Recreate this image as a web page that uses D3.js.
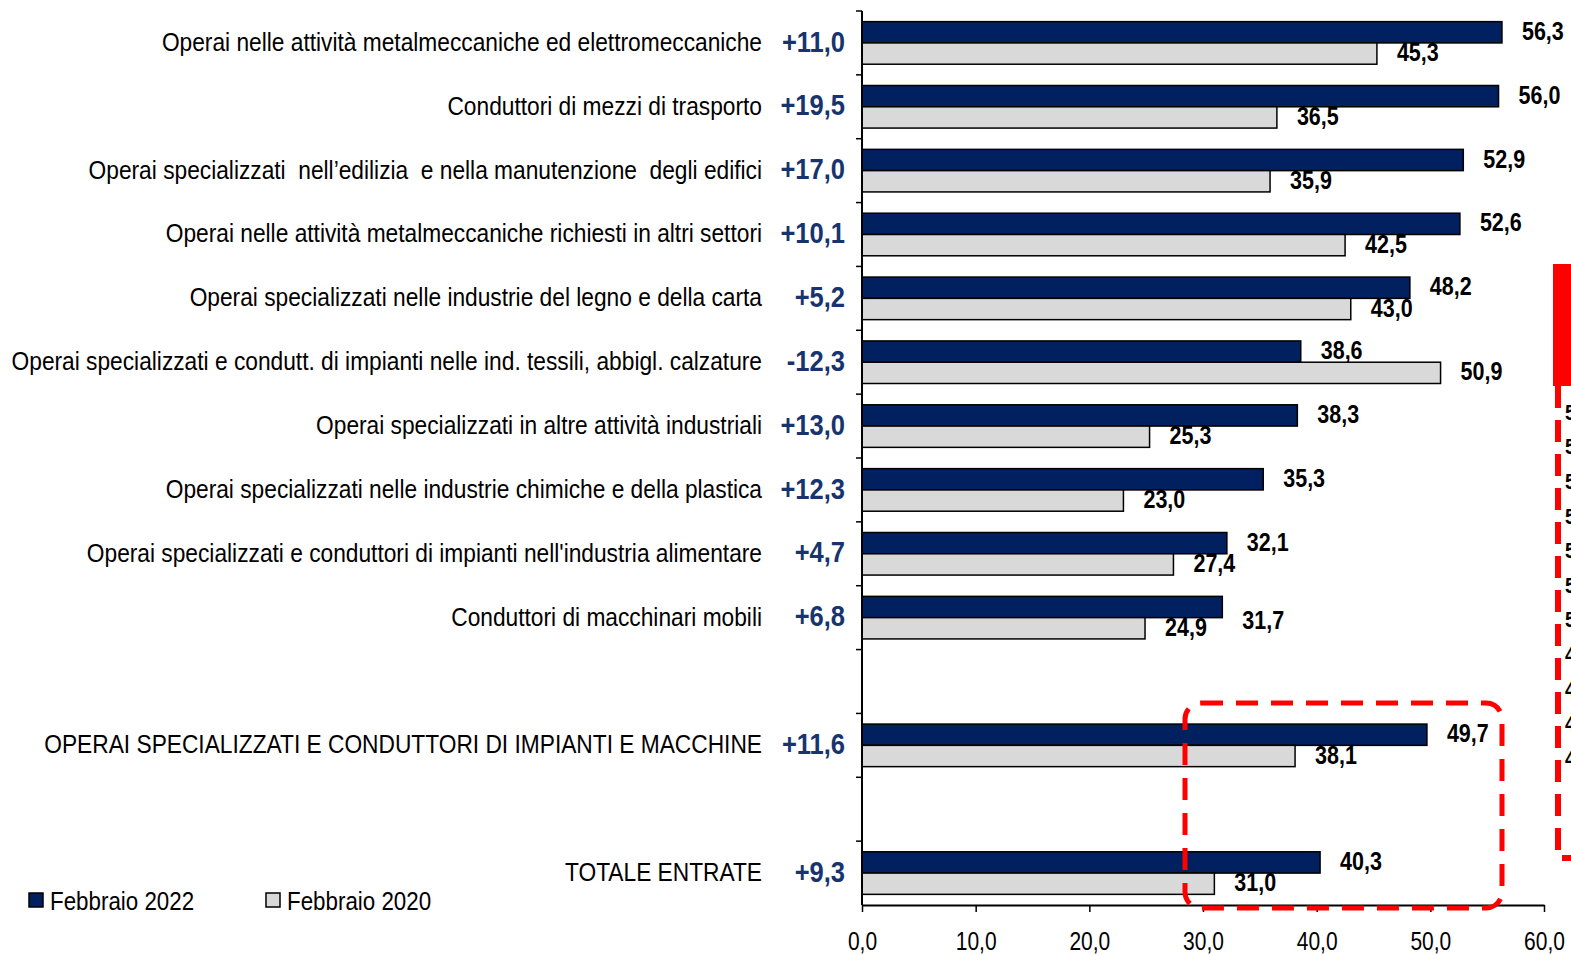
<!DOCTYPE html>
<html>
<head>
<meta charset="utf-8">
<script src="https://cdn.jsdelivr.net/npm/d3@7"></script>
<style>
  html, body { margin: 0; padding: 0; background: #fff; overflow: hidden; }
  svg { display: block; }
  text { font-family: "Liberation Sans Narrow", "Arial Narrow", "Liberation Sans", Arial, sans-serif; white-space: pre; }
</style>
</head>
<body>
<svg id="chart" width="1571" height="955"></svg>
<script>
// Professional groups (entrate previste, quota di difficile reperimento %)
const categories = [
  "Operai nelle attività metalmeccaniche ed elettromeccaniche",
  "Conduttori di mezzi di trasporto",
  "Operai specializzati  nell\u2019edilizia  e nella manutenzione  degli edifici",
  "Operai nelle attività metalmeccaniche richiesti in altri settori",
  "Operai specializzati nelle industrie del legno e della carta",
  "Operai specializzati e condutt. di impianti nelle ind. tessili, abbigl. calzature",
  "Operai specializzati in altre attività industriali",
  "Operai specializzati nelle industrie chimiche e della plastica",
  "Operai specializzati e conduttori di impianti nell'industria alimentare",
  "Conduttori di macchinari mobili",
  "OPERAI SPECIALIZZATI E CONDUTTORI DI IMPIANTI E MACCHINE",
  "TOTALE ENTRATE"
];
const feb2022 = [56.3, 56.0, 52.9, 52.6, 48.2, 38.6, 38.3, 35.3, 32.1, 31.7, 49.7, 40.3];
const feb2020 = [45.3, 36.5, 35.9, 42.5, 43.0, 50.9, 25.3, 23.0, 27.4, 24.9, 38.1, 31.0];
const seriesNames = ["Febbraio 2022", "Febbraio 2020"];
const xTicks = [0, 10, 20, 30, 40, 50, 60];
// row slot of each category (empty slots separate the aggregate rows)
const rowSlot = [0, 1, 2, 3, 4, 5, 6, 7, 8, 9, 11, 13];
const slotCount = 14;

const NAVY = "#00205F";
const LIGHT = "#D9D9D9";
const DIFF_COLOR = "#17346E";

const fmt = v => d3.format(".1f")(v).replace(".", ",");
const fmtDiff = v => (v > 0 ? "+" : v < 0 ? "-" : "") + fmt(Math.abs(v));

const svg = d3.select("#chart");

// draws a horizontally condensed text (narrow face look) anchored at (x, y)
function narrowText(parent, x, y, str, opts) {
  return parent.append("text")
    .attr("transform", `translate(${x},${y}) scale(${opts.squeeze},1)`)
    .attr("text-anchor", opts.anchor || "start")
    .attr("dominant-baseline", "middle")
    .attr("font-size", opts.size)
    .attr("font-weight", opts.weight || "normal")
    .attr("fill", opts.fill || "#000")
    .text(str);
}

const x = d3.scaleLinear().domain([0, 60]).range([862, 1544]);
const y = d3.scaleBand().domain(d3.range(slotCount)).range([11, 905]).padding(0);
const ySub = d3.scaleBand().domain(seriesNames).range([0, y.bandwidth()])
  .paddingInner(0).paddingOuter(0.5);

const rows = categories.map((c, i) => ({
  name: c, slot: rowSlot[i], v22: feb2022[i], v20: feb2020[i], diff: feb2022[i] - feb2020[i]
}));

// bars
const g = svg.append("g");
rows.forEach(r => {
  const top = y(r.slot);
  g.append("rect")
    .attr("x", x(0)).attr("y", top + ySub(seriesNames[0]))
    .attr("width", x(r.v22) - x(0)).attr("height", ySub.bandwidth())
    .attr("fill", NAVY).attr("stroke", "#000").attr("stroke-width", 1.5);
  g.append("rect")
    .attr("x", x(0)).attr("y", top + ySub(seriesNames[1]))
    .attr("width", x(r.v20) - x(0)).attr("height", ySub.bandwidth())
    .attr("fill", LIGHT).attr("stroke", "#000").attr("stroke-width", 1.5);
});

// value labels
const labelNudge = { 9: 14 }; // keep "31,7" clear of the lower label
const valueStyle = { size: 25, weight: "bold", squeeze: 0.86 };
rows.forEach((r, i) => {
  const top = y(r.slot);
  narrowText(g, x(r.v22) + 20,
    top + ySub(seriesNames[0]) + ySub.bandwidth() / 2 + 1 + (labelNudge[i] || 0),
    fmt(r.v22), valueStyle);
  narrowText(g, x(r.v20) + 20,
    top + ySub(seriesNames[1]) + ySub.bandwidth() / 2 + 1,
    fmt(r.v20), valueStyle);
});

// category labels and differences
rows.forEach(r => {
  const cy = y(r.slot) + y.bandwidth() / 2 + 1;
  narrowText(g, 762, cy, r.name, { size: 26, squeeze: 0.875, anchor: "end" });
  narrowText(g, 845, cy, fmtDiff(r.diff),
    { size: 29, squeeze: 0.88, anchor: "end", weight: "bold", fill: DIFF_COLOR });
});

// y axis line with band-boundary ticks
const yAxis = svg.append("g");
yAxis.append("line")
  .attr("x1", x(0)).attr("x2", x(0))
  .attr("y1", y.range()[0]).attr("y2", y.range()[1])
  .attr("stroke", "#000").attr("stroke-width", 2);
d3.range(slotCount).forEach(s => {
  yAxis.append("line")
    .attr("x1", x(0) - 6).attr("x2", x(0))
    .attr("y1", y(s)).attr("y2", y(s))
    .attr("stroke", "#000").attr("stroke-width", 1.5);
});

// x axis
const xAxis = svg.append("g")
  .attr("transform", `translate(0,${y.range()[1]})`)
  .call(d3.axisBottom(x).tickValues(xTicks).tickFormat(fmt).tickSize(7).tickSizeOuter(0));
xAxis.select(".domain").attr("stroke", "#000").attr("stroke-width", 2);
xAxis.selectAll(".tick line").attr("stroke", "#000").attr("stroke-width", 1.5);
xAxis.selectAll(".tick text")
  .attr("font-family", null)
  .attr("font-size", 25).attr("fill", "#000")
  .attr("dy", "0").attr("y", 0)
  .attr("dominant-baseline", "middle")
  .attr("transform", "translate(0,38) scale(0.84,1)");

// legend
const legend = svg.append("g");
[[NAVY, 29, 50], [LIGHT, 266, 287]].forEach((d, i) => {
  legend.append("rect")
    .attr("x", d[1]).attr("y", 893).attr("width", 14).attr("height", 14)
    .attr("fill", d[0]).attr("stroke", "#000").attr("stroke-width", 1.5);
  narrowText(legend, d[2], 903, seriesNames[i], { size: 26, squeeze: 0.86 });
});

// red dashed highlight around the aggregate rows
const hl = svg.append("g").attr("fill", "none").attr("stroke", "#FF0000");
hl.append("rect")
  .attr("x", 1185).attr("y", 703).attr("width", 317).attr("height", 205)
  .attr("rx", 16).attr("ry", 16)
  .attr("stroke-width", 5).attr("stroke-dasharray", "22,13");

// adjacent panel edge on the right
const edge = svg.append("g");
edge.append("rect").attr("x", 1553).attr("y", 264).attr("width", 18).attr("height", 122).attr("fill", "#FF0000");
edge.append("path")
  .attr("d", "M1558,386 L1558,858 L1575,858")
  .attr("fill", "none").attr("stroke", "#FF0000").attr("stroke-width", 6)
  .attr("stroke-dasharray", "22,12");
const edgeDigits = ["5", "5", "5", "5", "5", "5", "5", "4", "4", "4", "4"];
edgeDigits.forEach((t, i) => {
  narrowText(edge, 1565, 414 + i * 34.6, t, { size: 22, squeeze: 0.86, weight: "bold" });
});
</script>
</body>
</html>
